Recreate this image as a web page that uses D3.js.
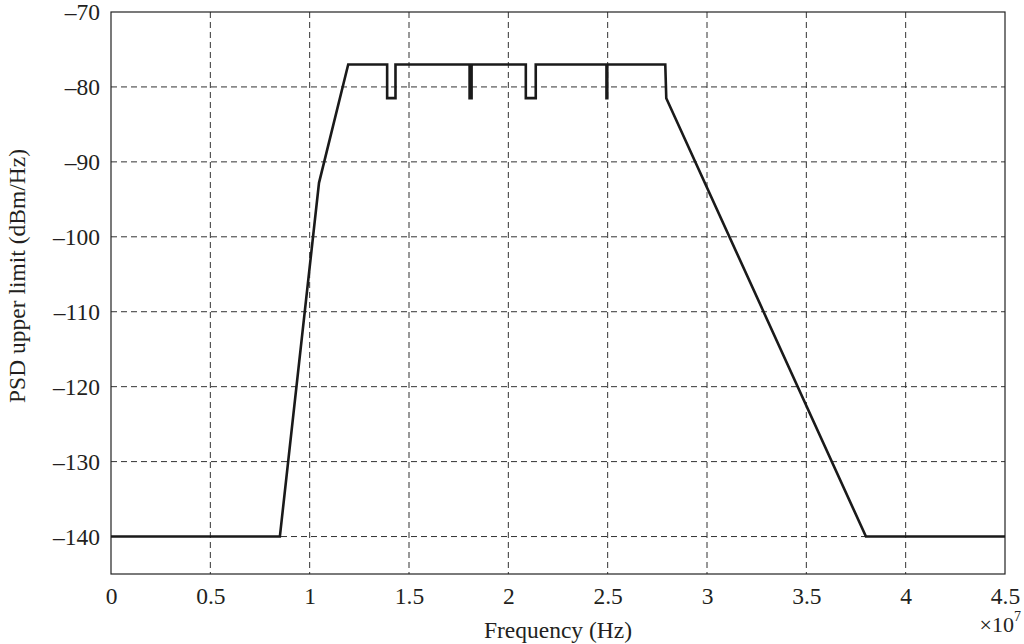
<!DOCTYPE html>
<html>
<head>
<meta charset="utf-8">
<script src="https://cdn.jsdelivr.net/npm/d3@7"></script>
<style>
  body { margin: 0; background: #fff; }
  text { font-family: "Liberation Serif", "DejaVu Serif", serif; fill: #231f20; }
</style>
</head>
<body>
<div id="chart"></div>
<script>
// frequency in units of 1e7 Hz, PSD limit in dBm/Hz
const freq = [0, 0.85, 1.047, 1.194, 1.39, 1.39, 1.432, 1.432, 1.805, 1.805, 1.815, 1.815,
  2.088, 2.088, 2.138, 2.138, 2.494, 2.494, 2.498, 2.498, 2.79, 2.795, 3.8, 4.5];
const psd = [-140, -140, -92.8, -77, -77, -81.5, -81.5, -77, -77, -81.5, -81.5, -77,
  -77, -81.5, -81.5, -77, -77, -81.5, -81.5, -77, -77, -81.5, -140, -140];
const xTicks = [0, 0.5, 1, 1.5, 2, 2.5, 3, 3.5, 4, 4.5];
const yTicks = [-70, -80, -90, -100, -110, -120, -130, -140];

const width = 1024, height = 644;
const margin = { top: 12, right: 19, bottom: 70, left: 111 };
const iw = width - margin.left - margin.right;
const ih = height - margin.top - margin.bottom;
const fontSize = 23.5;

const svg = d3.select('#chart').append('svg')
  .attr('width', width)
  .attr('height', height);

const g = svg.append('g')
  .attr('transform', `translate(${margin.left},${margin.top})`);

const x = d3.scaleLinear().domain([0, 4.5]).range([0, iw]);
const y = d3.scaleLinear().domain([-145, -70]).range([ih, 0]);

const fmt = v => String(v).replace('-', '\u2013');

// grid
g.append('g')
  .selectAll('line')
  .data(xTicks.slice(1, -1))
  .enter().append('line')
  .attr('x1', d => x(d)).attr('x2', d => x(d))
  .attr('y1', 0).attr('y2', ih)
  .attr('stroke', '#333').attr('stroke-width', 1)
  .attr('stroke-dasharray', '6,4');

g.append('g')
  .selectAll('line')
  .data(yTicks.slice(1))
  .enter().append('line')
  .attr('x1', 0).attr('x2', iw)
  .attr('y1', d => y(d)).attr('y2', d => y(d))
  .attr('stroke', '#333').attr('stroke-width', 1)
  .attr('stroke-dasharray', '6,4');

// axes
const xAxis = g.append('g')
  .attr('transform', `translate(0,${ih})`)
  .call(d3.axisBottom(x).tickValues(xTicks).tickSize(0).tickPadding(13).tickFormat(d => d));
const yAxis = g.append('g')
  .call(d3.axisLeft(y).tickValues(yTicks).tickSize(0).tickPadding(11).tickFormat(fmt));

[xAxis, yAxis].forEach(a => {
  a.select('.domain').remove();
  a.selectAll('text').attr('font-size', fontSize).attr('fill', '#231f20')
    .style('font-family', '"Liberation Serif", serif');
});

// frame
g.append('rect')
  .attr('width', iw).attr('height', ih)
  .attr('fill', 'none').attr('stroke', '#222').attr('stroke-width', 1.2);

// data line
const pts = freq.map((f, i) => [f, psd[i]]);
g.append('path')
  .datum(pts)
  .attr('fill', 'none')
  .attr('stroke', '#1a1a1a')
  .attr('stroke-width', 2.6)
  .attr('stroke-linejoin', 'miter')
  .attr('d', d3.line().x(d => x(d[0])).y(d => y(d[1])));

// labels
svg.append('text')
  .attr('x', 558).attr('y', 638)
  .attr('text-anchor', 'middle').attr('font-size', fontSize)
  .text('Frequency (Hz)');

svg.append('text')
  .attr('transform', 'translate(25,276) rotate(-90)')
  .attr('text-anchor', 'middle').attr('font-size', fontSize)
  .text('PSD upper limit (dBm/Hz)');

const exp = svg.append('text')
  .attr('x', 1021).attr('y', 632)
  .attr('text-anchor', 'end').attr('font-size', 22);
exp.append('tspan').text('\u00d710');
exp.append('tspan').attr('dy', -11).attr('font-size', 14).text('7');
</script>
</body>
</html>
